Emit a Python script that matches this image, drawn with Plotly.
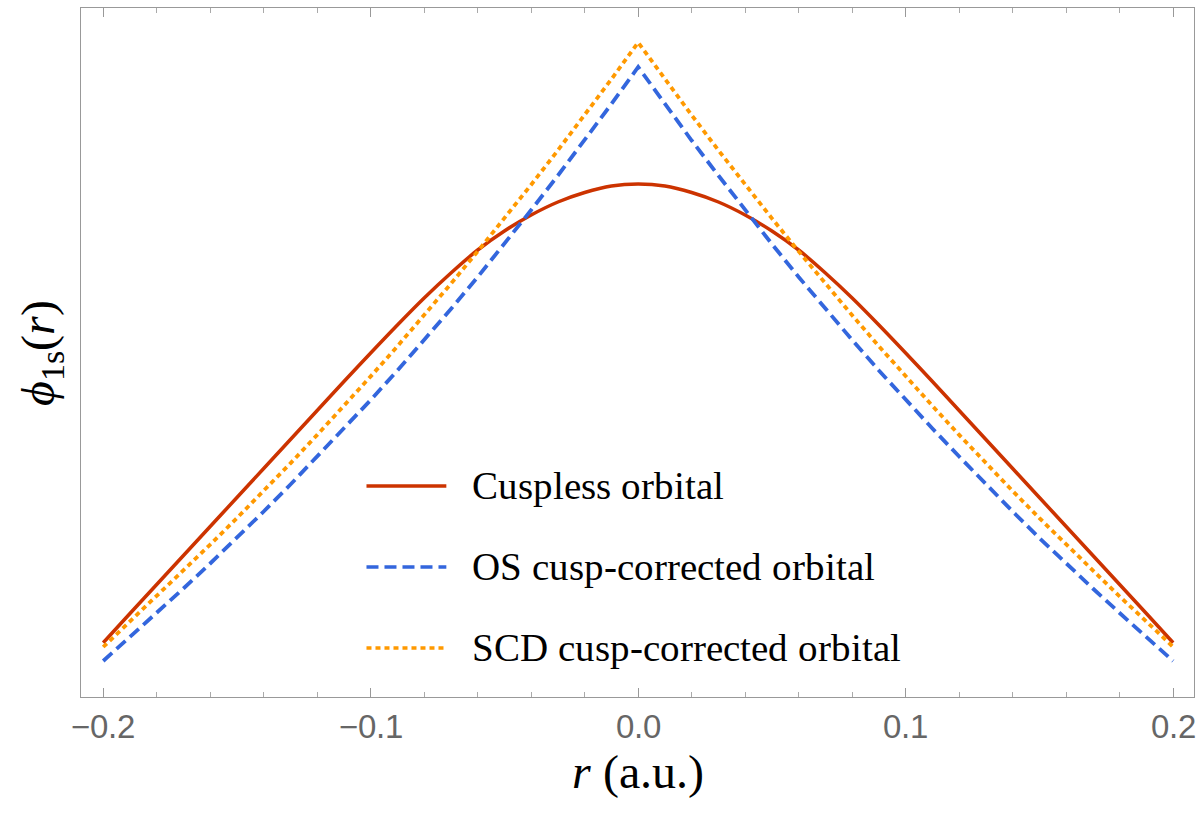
import base64
import glob
import subprocess

import plotly.graph_objects as go

# radial coordinate (a.u.)
r = [-0.20, -0.19, -0.18, -0.17, -0.16, -0.15, -0.14, -0.13, -0.12, -0.11, -0.10,
     -0.09, -0.08, -0.07, -0.06, -0.05, -0.04, -0.03, -0.02, -0.01, 0.00,
     0.01, 0.02, 0.03, 0.04, 0.05, 0.06, 0.07, 0.08, 0.09, 0.10,
     0.11, 0.12, 0.13, 0.14, 0.15, 0.16, 0.17, 0.18, 0.19, 0.20]

# orbital values (arbitrary units)
cuspless = [0.543, 0.835, 1.125, 1.415, 1.705, 1.995, 2.285, 2.575, 2.865, 3.155, 3.44,
            3.72, 3.99, 4.24, 4.47, 4.66, 4.82, 4.95, 5.045, 5.11, 5.13,
            5.11, 5.045, 4.95, 4.82, 4.66, 4.47, 4.24, 3.99, 3.72, 3.44,
            3.155, 2.865, 2.575, 2.285, 1.995, 1.705, 1.415, 1.125, 0.835, 0.543]

os_corrected = [0.36, 0.60, 0.84, 1.085, 1.335, 1.59, 1.855, 2.125, 2.405, 2.685, 2.97,
                3.265, 3.57, 3.88, 4.20, 4.53, 4.87, 5.215, 5.565, 5.93, 6.30,
                5.93, 5.565, 5.215, 4.87, 4.53, 4.20, 3.88, 3.57, 3.265, 2.97,
                2.685, 2.405, 2.125, 1.855, 1.59, 1.335, 1.085, 0.84, 0.60, 0.36]

scd_corrected = [0.50, 0.755, 1.005, 1.265, 1.524, 1.789, 2.06, 2.337, 2.621, 2.911, 3.206,
                 3.508, 3.817, 4.133, 4.456, 4.786, 5.123, 5.467, 5.819, 6.178, 6.545,
                 6.178, 5.819, 5.467, 5.123, 4.786, 4.456, 4.133, 3.817, 3.508, 3.206,
                 2.911, 2.621, 2.337, 2.06, 1.789, 1.524, 1.265, 1.005, 0.755, 0.50]

series_names = ["Cuspless orbital", "OS cusp-corrected orbital", "SCD cusp-corrected orbital"]
x_ticks = [-0.2, -0.1, 0.0, 0.1, 0.2]
x_tick_labels = ["\u22120.2", "\u22120.1", "0.0", "0.1", "0.2"]

RED = "#CC3300"
BLUE = "#3366DD"
ORANGE = "#FF9900"
DASH_BLUE = "12px,6px"
DASH_ORANGE = "5px,4px"
SERIF = "Liberation Serif"
SANS = "Liberation Sans"

W, H = 1200, 825
ML, MR, MT, MB = 81, 4, 8, 128

fig = go.Figure()
fig.add_trace(go.Scatter(x=r, y=cuspless, mode="lines", name=series_names[0],
                         line=dict(color=RED, width=3.5, shape="spline", smoothing=0.8),
                         showlegend=False))
fig.add_trace(go.Scatter(x=r, y=os_corrected, mode="lines", name=series_names[1],
                         line=dict(color=BLUE, width=3.8, dash=DASH_BLUE), showlegend=False))
fig.add_trace(go.Scatter(x=r, y=scd_corrected, mode="lines", name=series_names[2],
                         line=dict(color=ORANGE, width=3.8, dash=DASH_ORANGE), showlegend=False))

# manual legend inside the plot
pw, ph = W - ML - MR, H - MT - MB


def px(xp):
    return (xp - ML) / pw


def py(yp):
    return (H - MB - yp) / ph


legend_rows = [(486, RED, None), (567, BLUE, DASH_BLUE), (648, ORANGE, DASH_ORANGE)]
for (yrow, col, dash), name in zip(legend_rows, series_names):
    line = dict(color=col, width=3.6)
    if dash:
        line["dash"] = dash
    fig.add_shape(type="line", xref="paper", yref="paper",
                  x0=px(367), x1=px(447), y0=py(yrow), y1=py(yrow), line=line)
    fig.add_annotation(xref="paper", yref="paper", x=px(472), y=py(yrow),
                       xanchor="left", yanchor="middle", text=name, showarrow=False,
                       font=dict(family=SERIF, size=39, color="#000000"))

fig.update_layout(
    width=W, height=H,
    margin=dict(l=ML, r=MR, t=MT, b=MB),
    paper_bgcolor="white", plot_bgcolor="white",
    showlegend=False,
)

fig.update_xaxes(
    range=[-0.2083, 0.2078],
    showgrid=False, zeroline=False,
    showline=True, linecolor="#999999", linewidth=1.3, mirror="ticks",
    ticks="inside", ticklen=9, tickwidth=1, tickcolor="#999999",
    tickvals=x_ticks, ticktext=x_tick_labels,
    tickfont=dict(family=SANS, size=33, color="#666666"),
    minor=dict(dtick=0.02, ticks="inside", ticklen=5, tickwidth=1, tickcolor="#AAAAAA"),
    title=dict(text="<i>r</i> (a.u.)", font=dict(family=SERIF, size=48, color="#000000"),
               standoff=7),
)
fig.update_yaxes(
    range=[0, 6.89],
    showgrid=False, zeroline=False,
    showline=True, linecolor="#999999", linewidth=1.3, mirror=True,
    ticks="", tickvals=[], showticklabels=False,
    title=dict(text="<i>\u03d5</i><sub>1s</sub>(<i>r</i>)",
               font=dict(family=SERIF, size=48, color="#000000"),
               standoff=10),
)


# --- embed the locally installed Liberation fonts so the serif text renders reliably ---
def find_font(filename, fc_pattern):
    roots = ["/usr/share/fonts", "/usr/local/share/fonts", "/usr/share/fonts/truetype"]
    for root in roots:
        hits = glob.glob(root + "/**/" + filename, recursive=True)
        if hits:
            return hits[0]
    try:
        out = subprocess.run(["fc-match", "-f", "%{file}", fc_pattern],
                             capture_output=True, text=True, timeout=10).stdout.strip()
        if out and filename.split("-")[0].lower() in out.lower():
            return out
    except Exception:
        pass
    return None


def font_face(family, path, style):
    if not path:
        return ""
    with open(path, "rb") as fh:
        data = base64.b64encode(fh.read()).decode("ascii")
    return ("@font-face{font-family:'%s';font-style:%s;font-weight:normal;"
            "src:url(data:font/ttf;base64,%s) format('truetype');}" % (family, style, data))


css = ""
css += font_face("EmbSerif", find_font("LiberationSerif-Regular.ttf", "Liberation Serif:style=Regular"), "normal")
css += font_face("EmbSerif", find_font("LiberationSerif-Italic.ttf", "Liberation Serif:style=Italic"), "italic")
css += font_face("EmbSans", find_font("LiberationSans-Regular.ttf", "Liberation Sans:style=Regular"), "normal")

post_js = """
var gd = document.getElementById('{plot_id}');
var st = document.createElement('style');
st.textContent = "__CSS__";
document.head.appendChild(st);
function fixFonts() {
  gd.querySelectorAll('text.annotation-text, text.xtitle, text.ytitle').forEach(function (t) {
    t.style.setProperty('font-family', "EmbSerif, 'Liberation Serif', serif", 'important');
  });
  gd.querySelectorAll('g.xtick text').forEach(function (t) {
    t.style.setProperty('font-family', "EmbSans, 'Liberation Sans', sans-serif", 'important');
  });
}
fixFonts();
if (document.fonts && document.fonts.load) {
  Promise.all([document.fonts.load("39px EmbSerif"), document.fonts.load("italic 48px EmbSerif"),
               document.fonts.load("33px EmbSans")]).then(fixFonts);
}
""".replace("__CSS__", css)

fig.write_html("out.html", post_script=post_js)
